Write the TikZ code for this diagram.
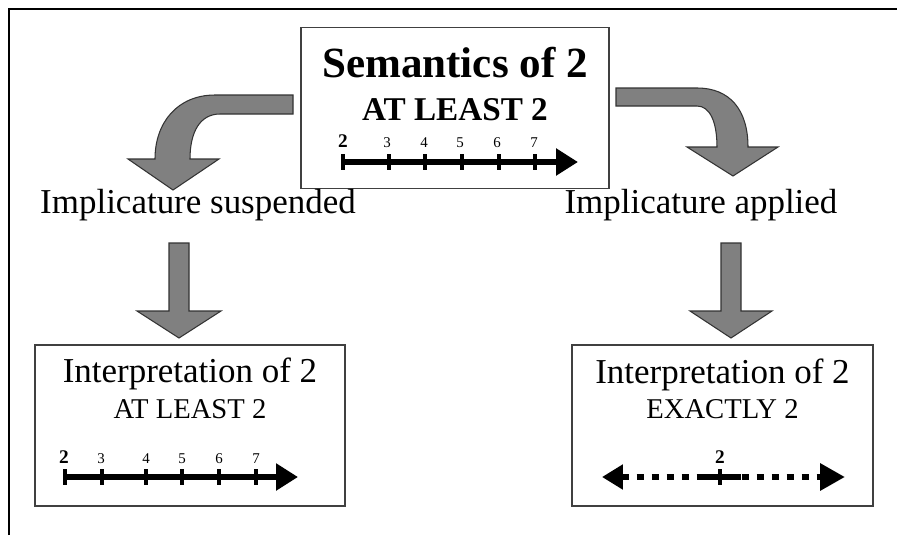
\documentclass[tikz,border=0pt]{standalone}
\usepackage{fontspec}
\setmainfont{Liberation Serif}
\usetikzlibrary{arrows.meta}
\definecolor{arrowgray}{RGB}{128,128,128}
\tikzstyle{framebox} = [rectangle, draw=black!75, line width=0.8pt, minimum height=3.22cm]
\tikzstyle{blockarrow} = [fill=arrowgray, draw=black!80, line width=0.6pt]
\tikzstyle{numline} = [line width=3.6pt, -{Triangle[length=0.44cm,width=0.52cm]}]
\tikzstyle{dotline} = [line width=3.6pt, dash pattern=on 0.14cm off 0.16cm, {Triangle[length=0.42cm,width=0.48cm]}-{Triangle[length=0.5cm,width=0.52cm]}]
\tikzstyle{numtick} = [line width=2.2pt]
\tikzstyle{numlabel} = [anchor=base, inner sep=0pt, font=\fontsize{8.5pt}{10pt}\selectfont]
\tikzstyle{numstart} = [anchor=base, inner sep=0pt, font=\fontsize{11pt}{12pt}\selectfont\bfseries]
\tikzstyle{bigtext} = [anchor=base, font=\fontsize{19.9pt}{22pt}\selectfont]
\tikzstyle{subtext} = [anchor=base, font=\fontsize{16.3pt}{19pt}\selectfont]

\begin{document}
\begin{tikzpicture}[x=0.02cm, y=-0.02cm]
\useasboundingbox (0,0) rectangle (897,535);
\draw[line width=1.1pt] (9,535) -- (9,9) -- (897,9);

% boxes
\node (sem) [framebox, minimum width=6.16cm] at (455,108) {};
\node (interpL) [framebox, minimum width=6.2cm] at (190,425.5) {};
\node (interpR) [framebox, minimum width=6.02cm] at (722.5,425.5) {};

% texts
\node (semtitle) [anchor=base, font=\fontsize{24.5pt}{28pt}\selectfont\bfseries] at (455,77) {Semantics of 2};
\node (semsub) [anchor=base, font=\fontsize{18.9pt}{22pt}\selectfont\bfseries] at (455,120) {AT LEAST 2};
\node (susp) [bigtext] at (198,213) {Implicature suspended};
\node (appl) [bigtext] at (701,213) {Implicature applied};
\node (interpLtitle) [bigtext] at (190,382) {Interpretation of 2};
\node (interpLsub) [subtext] at (190,418) {AT LEAST 2};
\node (interpRtitle) [bigtext] at (722.5,383) {Interpretation of 2};
\node (interpRsub) [subtext] at (722.5,418) {EXACTLY 2};

% block arrows
\draw[blockarrow] (293,95) -- (215,95) .. controls (178,95) and (155,122) .. (155,159)
  -- (128,159) -- (173,190) -- (219,159) -- (190,159)
  .. controls (190,132) and (200,114) .. (220,114) -- (293,114) -- cycle;
\draw[blockarrow] (616,88) -- (697,88) .. controls (730,88) and (748,110) .. (748,147)
  -- (778,147) -- (733,176) -- (687,147) -- (717,147)
  .. controls (717,122) and (710,106) .. (697,106) -- (616,106) -- cycle;
\draw[blockarrow] (169,243) -- (189,243) -- (189,311) -- (221,311) -- (179,338)
  -- (137,311) -- (169,311) -- cycle;
\draw[blockarrow] (721,243) -- (741,243) -- (741,311) -- (772,311) -- (731,338)
  -- (690,311) -- (721,311) -- cycle;

% number line, top
\coordinate (semstart) at (343,162);
\coordinate (semend) at (578,162);
\draw[numline] (semstart) -- (semend);
\foreach \x in {343,389,425,462,499,535}
  \draw[numtick] (\x,154) -- (\x,170);
\node (semtwo) [numstart] at (343,147) {2};
\foreach \x/\n in {387/3,424/4,460/5,497/6,534/7}
  \node (semnum\n) [numlabel] at (\x,147) {\n};

% number line, lower left
\coordinate (leaststart) at (65,477);
\coordinate (leastend) at (298,477);
\draw[numline] (leaststart) -- (leastend);
\foreach \x in {65,102,146,182,219,256}
  \draw[numtick] (\x,469) -- (\x,485);
\node (leasttwo) [numstart] at (64,463) {2};
\foreach \x/\n in {101/3,146/4,182/5,219/6,256/7}
  \node (leastnum\n) [numlabel] at (\x,463) {\n};

% number line, lower right
\coordinate (exactstart) at (602,477);
\coordinate (exactend) at (845,477);
\coordinate (exacttwo) at (720,477);
\draw[dotline] (exactstart) -- (exactend);
\draw[line width=3.6pt] (697,477) -- (741,477);
\draw[numtick] (exacttwo) ++(0,-8) -- ++(0,16);
\node (exactlabel) [numstart] at (720,463) {2};
\end{tikzpicture}
\end{document}
